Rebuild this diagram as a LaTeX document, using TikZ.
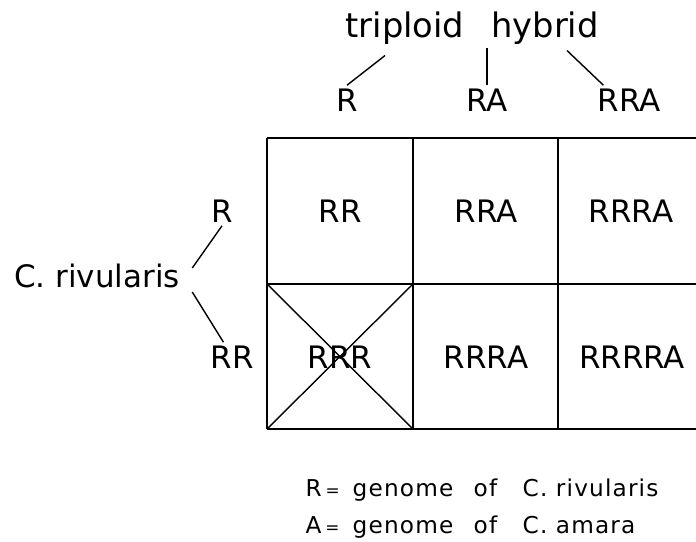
\documentclass[tikz,border=0pt]{standalone}
\usepackage{fontspec}
\setmainfont{DejaVu Sans}
\newfontfamily\keyfont[LetterSpace=5]{DejaVu Sans}
\usetikzlibrary{calc}
\tikzset{
  gen/.style={font=\fontsize{22}{26}\selectfont, inner sep=2pt},
  title/.style={font=\fontsize{24}{28}\selectfont, inner sep=2pt, anchor=base},
  key/.style={font=\keyfont\fontsize{16.5}{19}\selectfont, anchor=base west, inner sep=0pt},
  grid/.style={line width=1.2pt},
}
\newcommand{\smalleq}{\,{\fontsize{12}{12}\selectfont =}}
\begin{document}
\begin{tikzpicture}[x=0.025cm, y=-0.025cm, line width=1pt]
    \useasboundingbox (0,0) rectangle (696,541);

    % parents: triploid hybrid
    \node[title] (trip) at (405,37) {triploid};
    \node[title] (hyb) at (545,37) {hybrid};
    \node[gen] (tR) at (347,100) {R};
    \node[gen] (tRA) at (487,100) {RA};
    \node[gen] (tRRA) at (629,100) {RRA};

    \draw (trip.south) ++(-20,8) -- (tR.north);
    \draw (tRA.north) -- (tRA.north |- trip.south);
    \draw (hyb.south) ++(22,3) -- (tRRA.150);

    % parents: C. rivularis
    \node[gen] (riv) at (97,276) {C. rivularis};
    \node[gen] (lR) at (222,211) {R};
    \node[gen] (lRR) at (232,357) {RR};

    \draw (riv.east) ++(9,-8) -- (lR.south);
    \draw (riv.east) ++(9,16) -- (lRR.120);

    % the grid
    \draw[grid] (267,138) -- (696,138);
    \draw[grid] (267,284) -- (696,284);
    \draw[grid] (267,429) -- (696,429);
    \foreach \x in {267,413,558}
      \draw[grid] (\x,138) -- (\x,429);
    \draw (267,284) -- (413,429);
    \draw (413,284) -- (267,429);

    \node[gen] (c11) at (340,211) {RR};
    \node[gen] (c12) at (486,211) {RRA};
    \node[gen] (c13) at (631,211) {RRRA};
    \node[gen] (c21) at (340,357) {RRR};
    \node[gen] (c22) at (486,357) {RRRA};
    \node[gen] (c23) at (632,357) {RRRRA};

    % key
    \node[key] (keyR) at (305,496) {R\smalleq};
    \node[key] (keyRgen) at (352,496) {genome};
    \node[key] (keyRof) at (473,496) {of};
    \node[key] (keyRsp) at (522,496) {C. rivularis};
    \node[key] (keyA) at (305,533) {A\smalleq};
    \node[key] (keyAgen) at (352,533) {genome};
    \node[key] (keyAof) at (473,533) {of};
    \node[key] (keyAsp) at (522,533) {C. amara};
  \end{tikzpicture}
\end{document}
